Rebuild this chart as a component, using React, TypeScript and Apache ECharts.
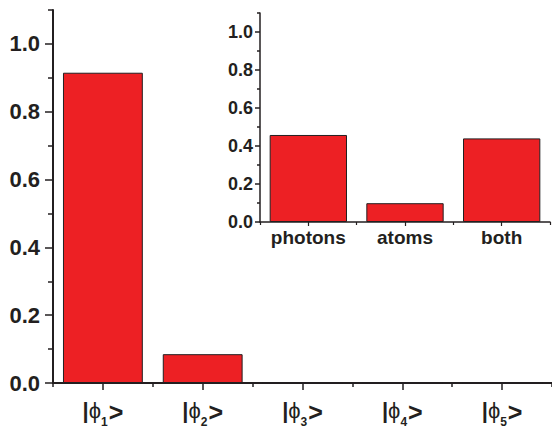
import React, { useEffect, useRef } from 'react';
import * as echarts from 'echarts';

const mainCategories = ['1', '2', '3', '4', '5'];
const mainValues = [0.915, 0.085, 0, 0, 0];
const insetCategories = ['photons', 'atoms', 'both'];
const insetValues = [0.458, 0.099, 0.44];
const majorTicks = [0, 0.2, 0.4, 0.6, 0.8, 1.0];
const minorTicks = [0.1, 0.3, 0.5, 0.7, 0.9, 1.1];

const INK = '#231F20';
const RED = '#ED2024';
const FONT = '"Liberation Sans", Arial, sans-serif';

export default function App() {
  const ref = useRef<HTMLDivElement>(null);
  useEffect(() => {
    if (!ref.current) return;
    const chart = echarts.init(ref.current, null, { renderer: 'svg' });
    const yMajor = (gi: number, len: number, fs: number, margin: number, lw: number) => ({
      type: 'value', gridIndex: gi, min: 0, max: 1.1, position: 'left',
      axisLine: { show: true, lineStyle: { color: INK, width: lw } },
      axisTick: { show: true, length: len, customValues: majorTicks, lineStyle: { color: INK, width: 1.5 } },
      axisLabel: {
        customValues: majorTicks, margin, fontSize: fs, fontWeight: 'bold', fontFamily: FONT, color: INK,
        formatter: (v: number) => v.toFixed(1),
      },
      splitLine: { show: false },
    });
    const yMinor = (gi: number, len: number) => ({
      type: 'value', gridIndex: gi, min: 0, max: 1.1, position: 'left',
      axisLine: { show: false },
      axisTick: { show: true, length: len, customValues: minorTicks, lineStyle: { color: INK, width: 1.5 } },
      axisLabel: { show: false },
      splitLine: { show: false },
    });
    chart.setOption({
      animation: false,
      backgroundColor: '#ffffff',
      grid: [
        { left: 53, top: 10, width: 500, height: 373 },
        { left: 260, top: 13, width: 290, height: 209 },
      ],
      xAxis: [
        {
          type: 'category', gridIndex: 0, position: 'bottom', data: mainCategories,
          axisLine: { show: true, lineStyle: { color: INK, width: 2 } },
          axisTick: { show: true, alignWithLabel: true, interval: 0, length: 7, lineStyle: { color: INK, width: 1.5 } },
          axisLabel: {
            margin: 16, interval: 0, hideOverlap: false,
            formatter: (v: string) => `{b||}{p|ϕ}{s|${v}}{g|>}`,
            rich: {
              b: { fontSize: 22, fontWeight: 'bold', fontFamily: FONT, color: INK, lineHeight: 24, verticalAlign: 'top' },
              p: { fontSize: 22, fontWeight: 'normal', fontFamily: FONT, color: INK, lineHeight: 24, verticalAlign: 'top' },
              g: { fontSize: 25, fontWeight: 'bold', fontFamily: FONT, color: INK, lineHeight: 24, verticalAlign: 'top' },
              s: { fontSize: 12, fontWeight: 'bold', fontFamily: FONT, color: INK, lineHeight: 12, verticalAlign: 'top', padding: [17, 1, 0, 0] },
            },
          },
          splitLine: { show: false },
        },
        {
          type: 'category', gridIndex: 0, position: 'bottom', data: mainCategories,
          axisLine: { show: false },
          axisTick: { show: true, interval: 0, length: 4, lineStyle: { color: INK, width: 1.5 } },
          axisLabel: { show: false },
          splitLine: { show: false },
        },
        {
          type: 'category', gridIndex: 1, position: 'bottom', data: insetCategories,
          axisLine: { show: true, lineStyle: { color: INK, width: 1.5 } },
          axisTick: { show: true, alignWithLabel: true, interval: 0, length: 4, lineStyle: { color: INK, width: 1.2 } },
          axisLabel: { margin: 5, interval: 0, hideOverlap: false, fontSize: 19, fontWeight: 'bold', fontFamily: FONT, color: INK, lineHeight: 20 },
          splitLine: { show: false },
        },
        {
          type: 'category', gridIndex: 1, position: 'bottom', data: insetCategories,
          axisLine: { show: false },
          axisTick: { show: true, interval: 0, length: 3, lineStyle: { color: INK, width: 1.2 } },
          axisLabel: { show: false },
          splitLine: { show: false },
        },
      ],
      yAxis: [
        yMajor(0, 8, 22, 13, 2),
        yMinor(0, 5),
        yMajor(1, 5, 18, 7, 1.5),
        yMinor(1, 3),
      ],
      series: [
        {
          type: 'bar', xAxisIndex: 0, yAxisIndex: 0, data: mainValues, barWidth: '80%',
          itemStyle: { color: RED, borderColor: INK, borderWidth: 1 },
        },
        {
          type: 'bar', xAxisIndex: 2, yAxisIndex: 2, data: insetValues, barWidth: '80%',
          itemStyle: { color: RED, borderColor: INK, borderWidth: 1 },
        },
      ],
    });
    return () => chart.dispose();
  }, []);
  return <div ref={ref} style={{ position: 'fixed', left: 0, top: 0, width: 552, height: 431 }} />;
}
